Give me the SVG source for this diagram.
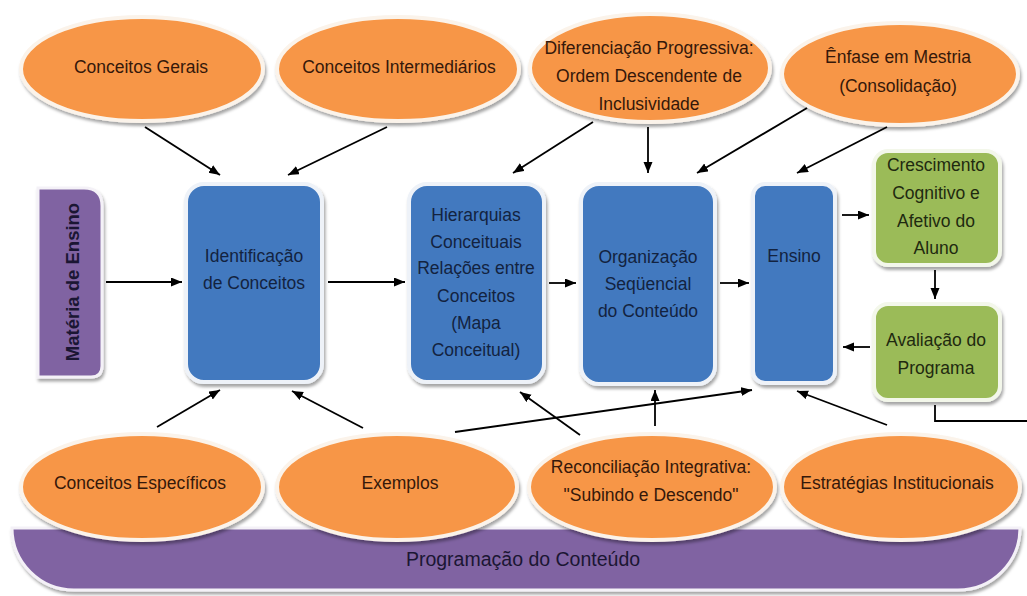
<svg xmlns="http://www.w3.org/2000/svg" width="1027" height="596" viewBox="0 0 1027 596">
  <defs>
    <filter id="shadow" x="-10%" y="-10%" width="120%" height="130%">
      <feDropShadow dx="1.5" dy="3" stdDeviation="1.8" flood-color="#000" flood-opacity="0.35"/>
    </filter>
    <marker id="arrow" markerUnits="userSpaceOnUse" markerWidth="12" markerHeight="10" refX="11" refY="4.5" orient="auto">
      <path d="M0,0 L11,4.5 L0,9 z" fill="#000"/>
    </marker>
  </defs>
  <style>
    .ell { fill: #f79646; stroke: #fbf3ea; stroke-width: 4; filter: url(#shadow); }
    .blue { fill: #4279bf; stroke: #eef2f8; stroke-width: 4; filter: url(#shadow); }
    .green { fill: #9bbb59; stroke: #f3f7ea; stroke-width: 4; filter: url(#shadow); }
    .purple { fill: #8064a2; stroke: #f4f1f7; stroke-width: 3; filter: url(#shadow); }
    text { font-family: "Liberation Sans", Arial, sans-serif; font-size: 17.5px; text-anchor: middle; }
    .t-or { fill: #35180a; }
    .t-bl { fill: #13233f; }
    .t-gr { fill: #1f2a10; }
    .t-pu { fill: #1b1633; }
    .conn { stroke: #000; stroke-width: 1.8; fill: none; }
    .conn.a { marker-end: url(#arrow); }
  </style>

  <rect width="1027" height="596" fill="#ffffff"/>

  <!-- base band -->
  <g id="programacao">
    <path class="purple" d="M12,528 H1020 A62,62 0 0 1 958,590 H74 A62,62 0 0 1 12,528 Z"/>
    <text class="t-pu" x="523" y="566" style="font-size:19.5px">Programação do Conteúdo</text>
  </g>

  <!-- side tab -->
  <g id="materia">
    <path class="purple" d="M38,188 H84 Q102,188 102,206 V366 Q102,377 91,377 H38 Z"/>
    <text class="t-pu" transform="translate(79,282) rotate(-90)" style="font-weight:bold;font-size:18.5px">Matéria de Ensino</text>
  </g>

  <!-- upper ellipses -->
  <g id="conceitos-gerais">
    <ellipse class="ell" cx="142" cy="69" rx="121" ry="52"/>
    <text class="t-or" x="141" y="73">Conceitos Gerais</text>
  </g>
  <g id="conceitos-intermediarios">
    <ellipse class="ell" cx="398" cy="69" rx="121" ry="52"/>
    <text class="t-or" x="399" y="73">Conceitos Intermediários</text>
  </g>
  <g id="diferenciacao">
    <ellipse class="ell" cx="650" cy="68" rx="120" ry="54"/>
    <text class="t-or" x="649" y="54">Diferenciação Progressiva:</text>
    <text class="t-or" x="649" y="82">Ordem Descendente de</text>
    <text class="t-or" x="649" y="110">Inclusividade</text>
  </g>
  <g id="enfase">
    <ellipse class="ell" cx="900" cy="74" rx="118" ry="51"/>
    <text class="t-or" x="898" y="63">Ênfase em Mestria</text>
    <text class="t-or" x="898" y="92">(Consolidação)</text>
  </g>

  <!-- lower ellipses -->
  <g id="conceitos-especificos">
    <ellipse class="ell" cx="142" cy="487" rx="121" ry="53"/>
    <text class="t-or" x="140" y="489">Conceitos Específicos</text>
  </g>
  <g id="exemplos">
    <ellipse class="ell" cx="397" cy="487" rx="120" ry="53"/>
    <text class="t-or" x="400" y="489">Exemplos</text>
  </g>
  <g id="reconciliacao">
    <ellipse class="ell" cx="652" cy="487" rx="123" ry="53"/>
    <text class="t-or" x="651" y="473">Reconciliação Integrativa:</text>
    <text class="t-or" x="651" y="501">"Subindo e Descendo"</text>
  </g>
  <g id="estrategias">
    <ellipse class="ell" cx="901" cy="487" rx="119" ry="53"/>
    <text class="t-or" x="897" y="489">Estratégias Institucionais</text>
  </g>

  <!-- process boxes -->
  <g id="identificacao">
    <rect class="blue" x="186" y="184" width="136" height="198" rx="18"/>
    <text class="t-bl" x="254" y="262">Identificação</text>
    <text class="t-bl" x="254" y="289">de Conceitos</text>
  </g>
  <g id="hierarquias">
    <rect class="blue" x="409" y="184" width="135" height="198" rx="18"/>
    <text class="t-bl" x="476" y="221">Hierarquias</text>
    <text class="t-bl" x="476" y="248">Conceituais</text>
    <text class="t-bl" x="476" y="274">Relações entre</text>
    <text class="t-bl" x="476" y="302">Conceitos</text>
    <text class="t-bl" x="476" y="329">(Mapa</text>
    <text class="t-bl" x="476" y="356">Conceitual)</text>
  </g>
  <g id="organizacao">
    <rect class="blue" x="581" y="184" width="134" height="200" rx="18"/>
    <text class="t-bl" x="648" y="263">Organização</text>
    <text class="t-bl" x="648" y="290">Seqüencial</text>
    <text class="t-bl" x="648" y="317">do Conteúdo</text>
  </g>
  <g id="ensino">
    <rect class="blue" x="753" y="184" width="82" height="199" rx="12"/>
    <text class="t-bl" x="794" y="262">Ensino</text>
  </g>
  <g id="crescimento">
    <rect class="green" x="874" y="151" width="126" height="114" rx="14"/>
    <text class="t-gr" x="936" y="171">Crescimento</text>
    <text class="t-gr" x="936" y="199">Cognitivo e</text>
    <text class="t-gr" x="936" y="227">Afetivo do</text>
    <text class="t-gr" x="936" y="254">Aluno</text>
  </g>
  <g id="avaliacao">
    <rect class="green" x="874" y="304" width="126" height="96" rx="14"/>
    <text class="t-gr" x="936" y="346">Avaliação do</text>
    <text class="t-gr" x="936" y="374">Programa</text>
  </g>

  <!-- connectors -->
  <g id="connectors">
    <line class="conn a" x1="145" y1="127" x2="220" y2="175"/>
    <line class="conn a" x1="387" y1="127" x2="288" y2="175"/>
    <line class="conn a" x1="593" y1="122" x2="513" y2="173"/>
    <line class="conn a" x1="648" y1="127" x2="648" y2="173"/>
    <line class="conn a" x1="807" y1="108" x2="697" y2="173"/>
    <line class="conn a" x1="887" y1="127" x2="797" y2="173"/>

    <line class="conn a" x1="106" y1="282" x2="182" y2="282"/>
    <line class="conn a" x1="328" y1="282" x2="405" y2="282"/>
    <line class="conn a" x1="549" y1="283" x2="576" y2="283"/>
    <line class="conn a" x1="720" y1="283" x2="749" y2="283"/>
    <line class="conn a" x1="842" y1="215" x2="869" y2="215"/>
    <line class="conn a" x1="935" y1="270" x2="935" y2="299"/>
    <line class="conn a" x1="870" y1="347" x2="843" y2="347"/>
    <polyline class="conn" points="935,405 935,421 1027,421"/>

    <line class="conn a" x1="157" y1="427" x2="220" y2="390"/>
    <line class="conn a" x1="363" y1="428" x2="292" y2="391"/>
    <line class="conn a" x1="455" y1="432" x2="752" y2="390"/>
    <line class="conn a" x1="580" y1="435" x2="520" y2="392"/>
    <line class="conn a" x1="655" y1="426" x2="655" y2="390"/>
    <line class="conn a" x1="887" y1="425" x2="797" y2="391"/>
  </g>
</svg>
